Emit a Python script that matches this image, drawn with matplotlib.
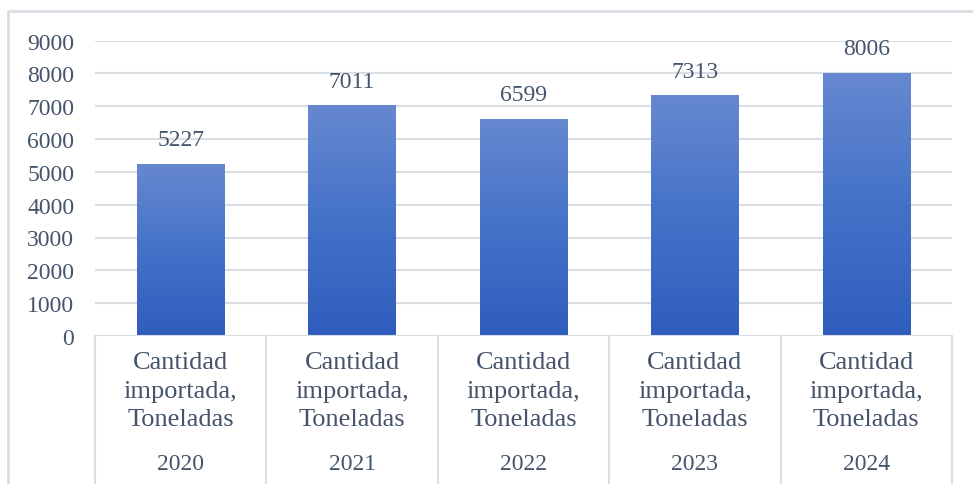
import matplotlib
matplotlib.use("Agg")
import matplotlib.pyplot as plt
import numpy as np
from matplotlib.colors import LinearSegmentedColormap
from matplotlib.patches import Rectangle

years = ["2020", "2021", "2022", "2023", "2024"]
category = "Cantidad\nimportada,\nToneladas"
values = [5227, 7011, 6599, 7313, 8006]
yticks = [0, 1000, 2000, 3000, 4000, 5000, 6000, 7000, 8000, 9000]

plt.rcParams['font.family'] = ['Liberation Serif', 'DejaVu Serif']
txt = '#44546A'
grid = '#d9dde4'

fig = plt.figure(figsize=(9.73, 4.85), dpi=100)
ax = fig.add_axes([95/973, 1-337/485, (952-95)/973, (337-41.5)/485])

x = np.arange(len(values))
bars = ax.bar(x, values, width=0.51, color='none', edgecolor='none', zorder=3)
cmap = LinearSegmentedColormap.from_list('g', ['#2f5dbd', '#4472c8', '#6688d0'])
grad = np.linspace(0, 1, 256).reshape(-1, 1)
for b in bars:
    x0, w, h = b.get_x(), b.get_width(), b.get_height()
    ax.imshow(grad, cmap=cmap, aspect='auto', origin='lower',
              extent=[x0, x0 + w, 0, h], zorder=3)

ax.set_xlim(-0.5, len(values) - 0.5)
ax.set_ylim(0, 9000)
ax.set_yticks(yticks)
ax.set_yticklabels([str(t) for t in yticks], fontsize=17, color=txt)
ax.tick_params(axis='y', length=0, pad=15)
for t in yticks[1:]:
    ax.axhline(t, color=grid, lw=1.5, zorder=1)
ax.axhline(0, color=grid, lw=1.5, zorder=4)
for s in ax.spines.values():
    s.set_visible(False)

ax.set_xticks(x)
ax.set_xticklabels([category] * len(values), fontsize=19, color=txt, linespacing=1.38)
ax.tick_params(axis='x', length=0, pad=11)
for xi, y in zip(x, years):
    ax.text(xi, -0.395, y, transform=ax.get_xaxis_transform(), ha='center', va='top',
            fontsize=17, color=txt)
for b in np.arange(-0.5, len(values)):
    ax.plot([b, b], [0, -0.55], transform=ax.get_xaxis_transform(), color=grid,
            lw=1.5, clip_on=False)

for xi, v in zip(x, values):
    ax.annotate(str(v), (xi, v), xytext=(0, 10), textcoords='offset points',
                ha='center', va='bottom', fontsize=17, color=txt)

fig.patches.append(Rectangle((8/973, -0.1), 1.0, 1 - 12/485 + 0.1, transform=fig.transFigure,
                             fill=False, edgecolor='#d9dde4', lw=2))
fig.savefig('out.png', dpi=100)
